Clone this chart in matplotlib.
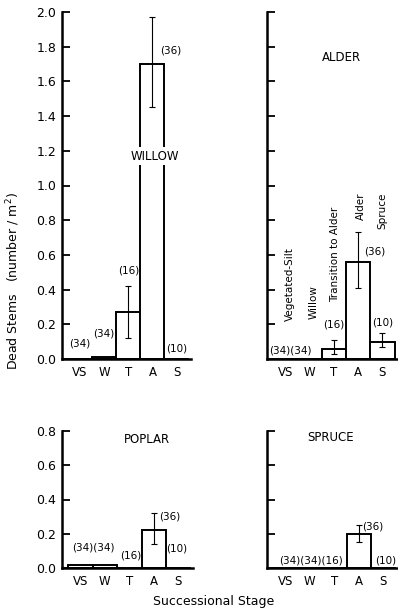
import matplotlib
matplotlib.use("Agg")
import matplotlib.pyplot as plt
import numpy as np

stages = ["VS", "W", "T", "A", "S"]
stage_names = ["Vegetated-Silt", "Willow", "Transition to Alder", "Alder", "Spruce"]
counts = ["(34)", "(34)", "(16)", "(36)", "(10)"]

willow = [0.0, 0.012, 0.27, 1.70, 0.0]
willow_lo = [0.0, 0.0, 0.12, 1.45, 0.0]
willow_hi = [0.0, 0.0, 0.42, 1.97, 0.0]

alder = [0.0, 0.0, 0.06, 0.56, 0.10]
alder_lo = [0.0, 0.0, 0.03, 0.41, 0.07]
alder_hi = [0.0, 0.0, 0.11, 0.73, 0.15]

poplar = [0.015, 0.015, 0.0, 0.22, 0.0]
poplar_lo = [0.0, 0.0, 0.0, 0.14, 0.0]
poplar_hi = [0.0, 0.0, 0.0, 0.32, 0.0]

spruce = [0.0, 0.0, 0.0, 0.20, 0.0]
spruce_lo = [0.0, 0.0, 0.0, 0.15, 0.0]
spruce_hi = [0.0, 0.0, 0.0, 0.25, 0.0]

plt.rcParams["font.family"] = "DejaVu Sans"

fig = plt.figure(figsize=(3.98, 6.11), dpi=100)
W, H = 398, 611


def make_ax(x0, x1, ytop, ybot):
    return fig.add_axes([x0 / W, 1 - ybot / H, (x1 - x0) / W, (ybot - ytop) / H])


ax_w = make_ax(62, 191, 12, 359)
ax_a = make_ax(267, 397, 12, 359)
ax_p = make_ax(62, 193, 431, 568)
ax_s = make_ax(267, 398, 431, 568)

x = np.arange(len(stages))


def draw(ax, vals, lo, hi, ymax, labels):
    ax.bar(x, vals, width=1.0, color="white", edgecolor="black", linewidth=1.4)
    vals = np.array(vals)
    lo = np.array(lo)
    hi = np.array(hi)
    has = hi > 0
    ax.errorbar(x[has], vals[has], yerr=[vals[has] - lo[has], hi[has] - vals[has]],
                fmt="none", ecolor="black", elinewidth=0.8, capsize=2.5, capthick=0.8)
    ax.set_xlim(-0.75, 4.6)
    ax.set_ylim(0, ymax)
    ax.set_yticks(np.arange(0, ymax + 0.01, 0.2))
    if labels:
        ax.set_yticklabels(["%.1f" % v for v in np.arange(0, ymax + 0.01, 0.2)], fontsize=9)
    else:
        ax.set_yticklabels([])
    ax.set_xticks(x)
    ax.set_xticklabels(stages, fontsize=8.5)
    ax.tick_params(axis="x", length=0, pad=5)
    ax.tick_params(axis="y", direction="in", length=6, width=1.3, pad=4)
    for s in ["top", "right"]:
        ax.spines[s].set_visible(False)
    for s in ["left", "bottom"]:
        ax.spines[s].set_linewidth(1.8)
    ax.patch.set_alpha(0)


draw(ax_w, willow, willow_lo, willow_hi, 2.0, True)
draw(ax_a, alder, alder_lo, alder_hi, 2.0, False)
draw(ax_p, poplar, poplar_lo, poplar_hi, 0.8, True)
draw(ax_s, spruce, spruce_lo, spruce_hi, 0.8, False)

fs = 7.5
# willow panel
ax_w.text(0, 0.06, counts[0], ha="center", va="bottom", fontsize=fs)
ax_w.text(1.0, 0.12, counts[1], ha="center", va="bottom", fontsize=fs)
ax_w.text(2, 0.48, counts[2], ha="center", va="bottom", fontsize=fs)
ax_w.text(3.75, 1.78, counts[3], ha="center", va="center", fontsize=fs)
ax_w.text(4.0, 0.03, counts[4], ha="center", va="bottom", fontsize=fs)
ax_w.text(3.1, 1.17, "WILLOW", ha="center", va="center", fontsize=8.5, zorder=5,
          bbox=dict(facecolor="white", edgecolor="none", pad=1.5))

# alder panel
ax_a.text(0.2, 0.02, counts[0] + counts[1], ha="center", va="bottom", fontsize=fs)
ax_a.text(2.0, 0.17, counts[2], ha="center", va="bottom", fontsize=fs)
ax_a.text(3.7, 0.59, counts[3], ha="center", va="bottom", fontsize=fs)
ax_a.text(4.0, 0.18, counts[4], ha="center", va="bottom", fontsize=fs)
ax_a.text(2.3, 1.74, "ALDER", ha="center", va="center", fontsize=8.5)
name_y = [0.22, 0.23, 0.33, 0.80, 0.75]
name_x = [0.2, 1.15, 2.05, 3.1, 4.0]
for nx, ny, nm in zip(name_x, name_y, stage_names):
    ax_a.text(nx, ny, nm, rotation=90, ha="center", va="bottom", fontsize=7.5)

# poplar panel
ax_p.text(0.55, 0.09, counts[0] + counts[1], ha="center", va="bottom", fontsize=fs)
ax_p.text(2.05, 0.045, counts[2], ha="center", va="bottom", fontsize=fs)
ax_p.text(3.65, 0.27, counts[3], ha="center", va="bottom", fontsize=fs)
ax_p.text(3.95, 0.085, counts[4], ha="center", va="bottom", fontsize=fs)
ax_p.text(2.7, 0.75, "POPLAR", ha="center", va="center", fontsize=8.5)

# spruce panel
ax_s.text(1.05, 0.015, counts[0] + counts[1] + counts[2], ha="center", va="bottom", fontsize=fs)
ax_s.text(3.55, 0.215, counts[3], ha="center", va="bottom", fontsize=fs)
ax_s.text(4.1, 0.015, counts[4], ha="center", va="bottom", fontsize=fs)
ax_s.text(1.85, 0.76, "SPRUCE", ha="center", va="center", fontsize=8.5)

fig.text(13 / W, 1 - 281 / H, "Dead Stems   (number / m$^2$)", rotation=90,
         ha="center", va="center", fontsize=9)
fig.text(214 / W, 1 - 602 / H, "Successional Stage", ha="center", va="center", fontsize=9)

fig.savefig("out.png", dpi=100)
